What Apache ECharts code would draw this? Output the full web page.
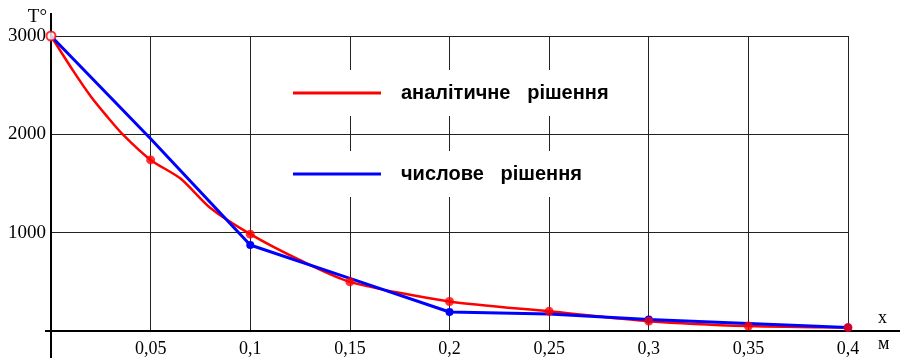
<!DOCTYPE html>
<html><head><meta charset="utf-8">
<script src="https://cdn.jsdelivr.net/npm/echarts@6/dist/echarts.min.js"></script>
<style>html,body{margin:0;padding:0;background:#fff}#c{width:900px;height:358px}</style>
</head><body><div id="c"></div>
<script>
// ---- data ----
const xTicks = [0, 0.05, 0.1, 0.15, 0.2, 0.25, 0.3, 0.35, 0.4];
const xTickLabels = ['', '0,05', '0,1', '0,15', '0,2', '0,25', '0,3', '0,35', '0,4'];
const yTicks = [0, 1000, 2000, 3000];
const yTickLabels = ['', '1000', '2000', '3000'];

const analyticName = 'аналітичне   рішення';
const analyticX = [0, 0.011, 0.02, 0.028, 0.036, 0.05, 0.065, 0.08, 0.1, 0.125, 0.15, 0.2, 0.25, 0.3, 0.35, 0.4];
const analyticT = [3000, 2650, 2385, 2185, 2000, 1740, 1550, 1250, 985, 720, 500, 300, 200, 100, 50, 35];
const analyticMarkedX = [0, 0.05, 0.1, 0.15, 0.2, 0.25, 0.3, 0.35, 0.4];

const numericName = 'числове   рішення';
const numericX = [0, 0.05, 0.1, 0.15, 0.2, 0.25, 0.3, 0.35, 0.4];
const numericT = [3000, 1955, 875, 535, 193, 172, 117, 77, 35];
const numericMarkedX = [0.1, 0.2, 0.3, 0.4];

// ---- build ----
const near = (a, b) => Math.abs(a - b) < 1e-6;
const analyticLine = analyticX.map((x, i) => [x, analyticT[i]]);
const analyticMarks = analyticLine.filter(p => analyticMarkedX.some(m => near(m, p[0])));
const numericData = numericX.map((x, i) => {
  const marked = numericMarkedX.some(m => near(m, x));
  return { value: [x, numericT[i]], symbolSize: marked ? 8 : 0 };
});

const chart = echarts.init(document.getElementById('c'));
const legendText = { fontFamily: 'Liberation Sans', fontWeight: 'bold', fontSize: 20, color: '#000', padding: [0, 0, 0, 15] };
chart.setOption({
  animation: false,
  backgroundColor: '#fff',
  grid: { left: 51, right: 52, top: 36, bottom: 23, containLabel: false },
  xAxis: {
    type: 'value', min: 0, max: 0.4, interval: 0.05,
    axisLine: { show: false }, axisTick: { show: false },
    splitLine: { show: true, lineStyle: { color: '#222', width: 1 } },
    axisLabel: {
      margin: 9, fontFamily: 'Liberation Serif', fontSize: 18, color: '#000',
      formatter: v => { const i = xTicks.findIndex(t => near(t, v)); return i >= 0 ? xTickLabels[i] : ''; }
    },
    name: 'x\nм', nameLocation: 'end', nameGap: 30,
    nameTextStyle: { fontFamily: 'Liberation Serif', fontSize: 18, color: '#000', align: 'left', verticalAlign: 'middle', lineHeight: 26 }
  },
  yAxis: {
    type: 'value', min: 0, max: 3000, interval: 1000,
    axisLine: { show: false }, axisTick: { show: false },
    splitLine: { show: true, lineStyle: { color: '#222', width: 1 } },
    axisLabel: {
      margin: 5, fontFamily: 'Liberation Serif', fontSize: 19, color: '#000',
      formatter: v => { const i = yTicks.findIndex(t => near(t, v)); return i >= 0 ? yTickLabels[i] : ''; }
    },
    name: 'T°', nameLocation: 'end', nameGap: 5,
    nameTextStyle: { fontFamily: 'Liberation Serif', fontSize: 19, color: '#000', align: 'right', verticalAlign: 'bottom', padding: [0, 4, 0, 0] }
  },
  legend: [
    { data: [{ name: analyticName, icon: 'rect' }], left: 283, top: 70, padding: [13, 20, 13, 10],
      backgroundColor: '#fff', itemWidth: 88, itemHeight: 3, selectedMode: false, textStyle: legendText },
    { data: [{ name: numericName, icon: 'rect' }], left: 283, top: 151, padding: [13, 20, 13, 10],
      backgroundColor: '#fff', itemWidth: 88, itemHeight: 3, selectedMode: false, textStyle: legendText }
  ],
  series: [
    { name: analyticName, type: 'line', data: analyticLine, showSymbol: false, z: 2, smooth: 0.25,
      lineStyle: { color: '#ff0000', width: 2.5 }, itemStyle: { color: '#ff0000' } },
    { name: numericName, type: 'line', data: numericData, symbol: 'circle', z: 3,
      lineStyle: { color: '#0000ff', width: 3 }, itemStyle: { color: '#0000ff' } },
    { name: 'analyticMarks', type: 'scatter', z: 10, clip: false, symbolSize: 9,
      data: analyticMarks.map((p, i) => i === 0
        ? { value: p, symbol: 'emptyCircle', itemStyle: { borderWidth: 2 } }
        : { value: p, symbol: 'circle' }),
      itemStyle: { color: '#ff0000' } }
  ]
});

// axis lines extended beyond the plot box, as in the reference
const o = chart.convertToPixel({ gridIndex: 0 }, [0, 0]);
chart.setOption({
  graphic: [
    { type: 'line', z: 1, shape: { x1: o[0] - 6, y1: o[1], x2: 900, y2: o[1] }, style: { stroke: '#000', lineWidth: 2 } },
    { type: 'line', z: 1, shape: { x1: o[0], y1: 13, x2: o[0], y2: 358 }, style: { stroke: '#000', lineWidth: 2 } }
  ]
});
</script></body></html>
